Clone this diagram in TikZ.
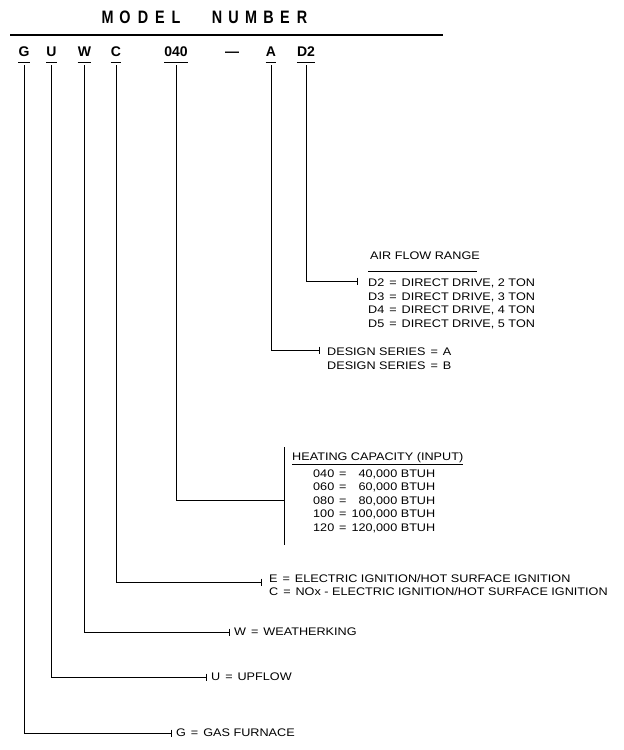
\documentclass[tikz,border=0pt]{standalone}
\usepackage{fontspec}
\setmainfont{Liberation Sans}[FakeStretch=1.15]
\newfontfamily\titlefont{Liberation Sans}[FakeStretch=0.8]
\newfontfamily\codefont{Liberation Sans}
\usetikzlibrary{arrows.meta}
\newcommand{\eq}{\hspace{.45em}=\hspace{.45em}}

\begin{document}
\begin{tikzpicture}[x=1pt, y=-1pt,
    code/.style={font=\codefont\bfseries\fontsize{14}{14}\selectfont, inner xsep=0pt, inner ysep=5.5pt, text height=10pt, text depth=0pt},
    lbl/.style={font=\fontsize{11}{13.5}\selectfont, align=left, inner xsep=4pt, inner ysep=0pt},
    conn/.style={line width=.8pt, shorten <=3pt, -{Bar[width=7pt, line width=.8pt]}}
]
\useasboundingbox (0,0) rectangle (624,750);

% heading
\foreach \ch/\x [count=\i] in {M/107.5,O/125,D/143,E/160,L/176,N/217,U/233.5,M/251,B/268.5,E/285,R/302}
    \node[font=\titlefont\bfseries\fontsize{18}{18}\selectfont, inner sep=0pt] (t\i) at (\x,17.5) {\ch};
\draw[line width=2.2pt] (10,35) -- (443,35);

% the code letters
\node[code] (G) at (24,51.5) {G};
\node[code] (U) at (51.5,51.5) {U};
\node[code] (W) at (84.5,51.5) {W};
\node[code] (C) at (116,51.5) {C};
\node[code] (cap) at (176,51.5) {040};
\node[code] (dash) at (232,51.5) {—};
\node[code] (A) at (271,51.5) {A};
\node[code] (D) at (306,51.5) {D2};
\foreach \n in {G,U,W,C,cap,A,D}
    \draw[line width=.8pt] (\n.south west) -- (\n.south east);

% air flow
\node[lbl, anchor=west] (air) at (366,256) {AIR FLOW RANGE};
\draw[line width=.8pt] (368,271) -- (477,271);
\node[lbl, anchor=north west] (drv) at (364,279) {D2\eq DIRECT DRIVE, 2 TON\\D3\eq DIRECT DRIVE, 3 TON\\D4\eq DIRECT DRIVE, 4 TON\\D5\eq DIRECT DRIVE, 5 TON};
\coordinate (drvT) at (358,281);
\draw[conn] (D.south) |- (drvT);

% design series
\node[lbl, anchor=north west] (ser) at (323,348) {DESIGN SERIES\eq A\\DESIGN SERIES\eq B};
\coordinate (serT) at (320,350);
\draw[conn] (A.south) |- (serT);

% heating capacity
\node[lbl, anchor=west] (heat) at (288,459) {\underline{HEATING CAPACITY (INPUT)}};
\node[lbl, anchor=north west, inner xsep=0pt] (btuh) at (313,467.5) {%
    \begin{tabular}{@{}r@{\eq}r@{\ }l@{}}
    040 & 40,000 & BTUH\\
    060 & 60,000 & BTUH\\
    080 & 80,000 & BTUH\\
    100 & 100,000 & BTUH\\
    120 & 120,000 & BTUH
    \end{tabular}};
\coordinate (barT) at (284,447);
\coordinate (barB) at (284,545);
\coordinate (barM) at (284,500);
\draw[line width=.8pt] (barT) -- (barB);
\draw[conn, -] (cap.south) |- (barM);

% ignition
\node[lbl, anchor=north west] (ign) at (265,574) {E\eq ELECTRIC IGNITION/HOT SURFACE IGNITION\\C\eq NOx - ELECTRIC IGNITION/HOT SURFACE IGNITION};
\coordinate (ignT) at (262,582);
\draw[conn] (C.south) |- (ignT);

\node[lbl, anchor=west] (wk) at (230,632) {W\eq WEATHERKING};
\draw[conn] (W.south) |- (wk.west);

\node[lbl, anchor=west] (up) at (207,677) {U\eq UPFLOW};
\draw[conn] (U.south) |- (up.west);

\node[lbl, anchor=west] (gas) at (172,733) {G\eq GAS FURNACE};
\draw[conn] (G.south) |- (gas.west);

\end{tikzpicture}
\end{document}
